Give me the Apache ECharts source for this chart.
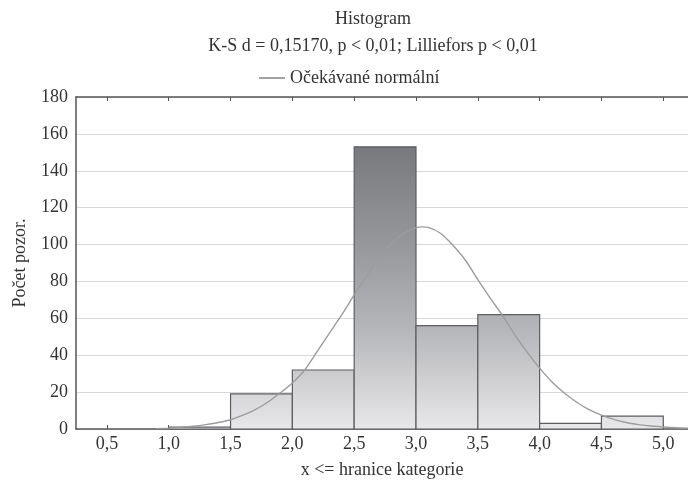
<!DOCTYPE html>
<html lang="cs">
<head>
<meta charset="UTF-8">
<title>Histogram</title>
<script src="https://cdn.jsdelivr.net/npm/echarts@6/dist/echarts.min.js"></script>
<style>
  html, body { margin: 0; padding: 0; background: #fff; }
  #main { width: 688px; height: 484px; }
</style>
</head>
<body>
<div id="main"></div>
<script>
// bins of the histogram (upper bound = category label)
var binStart = [0.5, 1.0, 1.5, 2.0, 2.5, 3.0, 3.5, 4.0, 4.5];
var binEnd   = [1.0, 1.5, 2.0, 2.5, 3.0, 3.5, 4.0, 4.5, 5.0];
var counts   = [0, 1, 19, 32, 153, 56, 62, 3, 7];

// expected normal curve
var curveX = [0.9, 1.0, 1.1, 1.2, 1.3, 1.4, 1.5, 1.6, 1.7, 1.8, 1.9, 2.0, 2.1, 2.2, 2.3, 2.4, 2.5, 2.6, 2.7, 2.8, 2.9, 3.0, 3.05,
              3.1, 3.2, 3.3, 3.4, 3.5, 3.6, 3.7, 3.8, 3.9, 4.0, 4.1, 4.2, 4.3, 4.4, 4.5, 4.6, 4.7, 4.8, 4.9, 5.0, 5.1, 5.2];
var curveY = [0.2, 0.5, 0.9, 1.5, 2.4, 3.5, 5.0, 7.5, 10.5, 14.5, 19.5, 25, 32, 42, 52, 62, 72.7, 83, 93, 100.5, 106, 109.2, 109.6,
              109.3, 106, 99.5, 91.5, 81, 71, 61.5, 51, 41.5, 33, 25.5, 19.5, 14.5, 10.5, 7.5, 5.2, 3.5, 2.4, 1.6, 1.1, 0.7, 0.5];

var xTicks = [0.5, 1.0, 1.5, 2.0, 2.5, 3.0, 3.5, 4.0, 4.5, 5.0];

var font = 'Liberation Serif';
var textColor = '#333';

var barData = [];
for (var i = 0; i < counts.length; i++) {
    barData.push([binStart[i], binEnd[i], counts[i]]);
}
var curveData = [];
for (var j = 0; j < curveX.length; j++) {
    curveData.push([curveX[j], curveY[j]]);
}

function fmt(v) {
    return v.toFixed(1).replace('.', ',');
}

var chart = echarts.init(document.getElementById('main'));

var option = {
    animation: false,
    backgroundColor: '#fff',
    // titles are centred over the plot area, not the page
    title: [
        {
            text: 'Histogram',
            left: 368,
            textAlign: 'center',
            top: 5,
            textStyle: { fontFamily: font, fontSize: 18, fontWeight: 'normal', color: textColor }
        },
        {
            text: 'K-S d = 0,15170, p < 0,01; Lilliefors p < 0,01',
            left: 368,
            textAlign: 'center',
            top: 32,
            textStyle: { fontFamily: font, fontSize: 18, fontWeight: 'normal', color: textColor }
        }
    ],
    legend: {
        left: 254,
        top: 64,
        itemWidth: 26,
        itemHeight: 2,
        itemGap: 7,
        data: [{ name: 'Očekávané normální', icon: 'rect' }],
        textStyle: { fontFamily: font, fontSize: 18, color: textColor }
    },
    grid: { left: 76, top: 97, right: 0, bottom: 55 },
    xAxis: [
        {
            type: 'value',
            min: 0.25,
            max: 5.2,
            position: 'bottom',
            name: 'x <= hranice kategorie',
            nameLocation: 'middle',
            nameGap: 32,
            nameTextStyle: { fontFamily: font, fontSize: 18, color: textColor },
            axisLine: { lineStyle: { color: '#555', width: 1.5 } },
            axisTick: { inside: true, length: 4, customValues: xTicks, lineStyle: { color: '#555' } },
            axisLabel: {
                customValues: xTicks,
                formatter: fmt,
                margin: 6,
                fontFamily: font, fontSize: 18, color: textColor
            },
            splitLine: { show: false }
        },
        {
            type: 'value',
            min: 0.25,
            max: 5.2,
            position: 'top',
            axisLine: { lineStyle: { color: '#555', width: 1.5 } },
            axisTick: { inside: true, length: 4, customValues: xTicks, lineStyle: { color: '#555' } },
            axisLabel: { show: false },
            splitLine: { show: false }
        }
    ],
    yAxis: {
        type: 'value',
        min: 0,
        max: 180,
        interval: 20,
        name: 'Počet pozor.',
        nameLocation: 'middle',
        nameGap: 47,
        nameTextStyle: { fontFamily: font, fontSize: 18, color: textColor },
        axisLine: { show: true, lineStyle: { color: '#555', width: 1.5 } },
        axisTick: { show: false },
        axisLabel: { margin: 8, fontFamily: font, fontSize: 18, color: textColor },
        splitLine: { lineStyle: { color: '#d8d8d8', width: 1.2 } }
    },
    series: [
        {
            name: 'bins',
            type: 'custom',
            xAxisIndex: 0,
            yAxisIndex: 0,
            encode: { x: [0, 1], y: 2 },
            data: barData,
            renderItem: function (params, api) {
                if (api.value(2) <= 0) {
                    return null;
                }
                var p0 = api.coord([api.value(0), api.value(2)]);
                var p1 = api.coord([api.value(1), 0]);
                var yTop = api.coord([0, 180])[1];
                var yBot = api.coord([0, 0])[1];
                var fill = new echarts.graphic.LinearGradient(0, yTop, 0, yBot, [
                    { offset: 0, color: '#6c6d71' },
                    { offset: 0.15, color: '#78797d' },
                    { offset: 0.45, color: '#97989c' },
                    { offset: 0.7, color: '#b5b6b9' },
                    { offset: 1, color: '#e8e8ea' }
                ], true);
                return {
                    type: 'rect',
                    shape: { x: p0[0], y: p0[1], width: p1[0] - p0[0], height: p1[1] - p0[1] },
                    style: { fill: fill, stroke: '#5c5d61', lineWidth: 1.2 }
                };
            }
        },
        {
            name: 'Očekávané normální',
            type: 'line',
            xAxisIndex: 0,
            yAxisIndex: 0,
            data: curveData,
            smooth: 0.3,
            showSymbol: false,
            symbol: 'none',
            z: 5,
            itemStyle: { color: '#a0a0a0' },
            lineStyle: { color: '#9c9c9c', width: 1.4 }
        }
    ]
};

chart.setOption(option);
</script>
</body>
</html>
